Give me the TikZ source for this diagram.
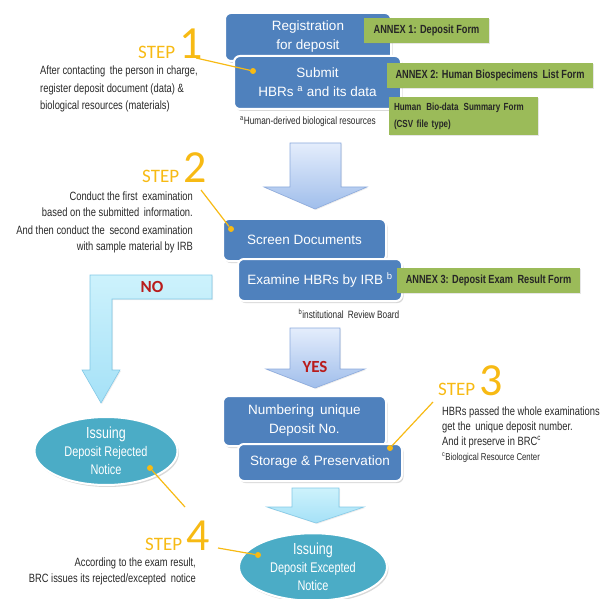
\documentclass[tikz,border=0pt]{standalone}
\usepackage{fontspec}
\setmainfont{Liberation Sans}
\newfontfamily\narrowfont{Liberation Sans}[FakeStretch=0.78]
\newfontfamily\stepfont{Carlito}
\usepackage{tikz}
\usepackage{xcolor}
\usetikzlibrary{positioning,shadows,shapes.geometric}
\definecolor{boxblue}{RGB}{79,129,189}
\definecolor{annexgreen}{RGB}{155,187,89}
\definecolor{stepgold}{RGB}{247,186,20}
\definecolor{noticeteal}{RGB}{75,172,198}
\definecolor{answerred}{RGB}{185,28,28}
\definecolor{textgrey}{RGB}{40,40,40}
\tikzstyle{proc} = [rectangle, rounded corners=6pt, draw=white, line width=2pt, fill=boxblue, text=white, align=center, inner sep=0pt, font=\fontsize{13.5}{19}\selectfont, drop shadow={opacity=0.3, shadow xshift=1.5pt, shadow yshift=-2pt}]
\tikzstyle{annex} = [rectangle, fill=annexgreen, text=black!85, inner sep=0pt, font=\narrowfont\bfseries\fontsize{11.8}{14}\selectfont, drop shadow={opacity=0.2, shadow xshift=1pt, shadow yshift=-1pt}]
\tikzstyle{notice} = [ellipse, draw=white, line width=2pt, fill=noticeteal, text=white, align=center, inner sep=0pt, font=\narrowfont\fontsize{14}{18}\selectfont, drop shadow={opacity=0.3, shadow xshift=1.5pt, shadow yshift=-2pt}]
\tikzstyle{stepword} = [inner sep=0pt, text=stepgold, font=\stepfont\fontsize{19}{22}\selectfont]
\tikzstyle{stepnum} = [inner sep=0pt, text=stepgold, font=\stepfont\fontsize{46}{50}\selectfont]
\tikzstyle{desc} = [inner sep=0pt, text=textgrey, font=\narrowfont\fontsize{12}{17}\selectfont]
\tikzstyle{footnote} = [inner sep=0pt, text=textgrey, font=\narrowfont\fontsize{10.6}{12}\selectfont]
\tikzstyle{dot} = [circle, fill=stepgold, inner sep=0pt, minimum size=6pt]
\tikzstyle{leader} = [draw=stepgold, line width=1.2pt]
\tikzstyle{answer} = [inner sep=0pt, text=answerred, font=\stepfont\bfseries\fontsize{17}{20}\selectfont]
\tikzstyle{bluearrow} = [draw={rgb,255:red,140;green,170;blue,220}, top color={rgb,255:red,228;green,237;blue,252}, bottom color={rgb,255:red,160;green,190;blue,235}, line width=0.6pt, drop shadow={opacity=0.15, shadow xshift=1pt, shadow yshift=-1pt}]
\tikzstyle{cyanarrow} = [draw={rgb,255:red,130;green,200;blue,230}, top color={rgb,255:red,205;green,242;blue,252}, bottom color={rgb,255:red,165;green,225;blue,247}, line width=0.6pt, drop shadow={opacity=0.15, shadow xshift=1pt, shadow yshift=-1pt}]

\begin{document}
\begin{tikzpicture}[x=1pt,y=-1pt]
  \useasboundingbox (0,0) rectangle (603,599);

  % arrows between the stages
  \path[bluearrow] (290,143) -- (341,143) -- (341,187) -- (367,187) -- (315,209) -- (264,187) -- (290,187) -- cycle;
  \path[bluearrow] (290,328) -- (340,328) -- (340,369) -- (365,369) -- (315,388) -- (266,369) -- (290,369) -- cycle;
  \path[cyanarrow] (90,275) -- (212,275) -- (212,299) -- (112,299) -- (112,370) -- (120,370) -- (101,403) -- (82,370) -- (90,370) -- cycle;
  \path[cyanarrow] (292,488) -- (339,488) -- (339,507) -- (364,507) -- (316,523) -- (267,507) -- (292,507) -- cycle;
  \node[answer] (no) at (152,287) {NO};
  \node[answer] (yes) at (315,367) {YES};

  % blue stage boxes
  \node[proc, minimum width=166pt, minimum height=48pt] (reg) at (308,37) {Registration\\for deposit};
  \node[proc, minimum width=167pt, minimum height=53pt] (submit) at (317.5,82.5) {Submit\\HBRs \textsuperscript{a} and its data};
  \node[footnote] (fa) at (308,122) {\textsuperscript{a}Human-derived biological resources};
  \node[proc, minimum width=163pt, minimum height=42pt] (screen) at (304.5,240) {Screen Documents};
  \node[proc, minimum width=164pt, minimum height=42pt] (exam) at (320,280) {Examine HBRs by IRB \textsuperscript{b}};
  \node[footnote] (fb) at (349,314) {\textsuperscript{b}institutional\, Review Board};
  \node[proc, minimum width=163pt, minimum height=50pt] (number) at (304.5,421) {Numbering\, unique\\Deposit No.};
  \node[proc, minimum width=164pt, minimum height=37pt] (store) at (320,462.5) {Storage \& Preservation};

  % annex forms
  \node[annex, minimum width=125pt, minimum height=25pt] (annex1) at (426.5,30.5) {ANNEX 1: Deposit Form};
  \node[annex, minimum width=206pt, minimum height=25pt] (annex2) at (490,75.5) {ANNEX 2: Human Biospecimens\, List Form};
  \node[annex, minimum width=149pt, minimum height=38pt, align=left, text width=139pt, font=\narrowfont\bfseries\fontsize{10.3}{17}\selectfont] (biodata) at (463.5,116) {Human\, Bio-data\, Summary Form\\(CSV file type)};
  \node[annex, minimum width=183pt, minimum height=25pt] (annex3) at (488.5,280.5) {ANNEX 3: Deposit Exam\, Result Form};

  % notices
  \node[notice, minimum width=143pt, minimum height=68pt] (reject) at (106,451) {{\fontsize{16}{19}\selectfont Issuing}\\Deposit Rejected\\Notice};
  \node[notice, minimum width=148pt, minimum height=62pt] (accept) at (313,567) {{\fontsize{16}{18}\selectfont Issuing}\\Deposit Excepted\\Notice};

  % step 1
  \node[stepword, anchor=base west] (s1) at (138,59) {STEP};
  \node[stepnum, anchor=base west] (n1) at ([xshift=4pt]s1.base east) {1};
  \node[desc, align=left, anchor=base west, font=\narrowfont\fontsize{12}{17.5}\selectfont] (t1) at (40,110) {After contacting\, the person in charge,\\register deposit document (data) \&\\biological resources (materials)};
  \node[dot] (d1) at (253,71) {};
  \coordinate (l1) at (196,58);
  \path[leader] (l1) -- (d1);

  % step 2
  \node[stepword, anchor=base west] (s2) at (142,183) {STEP};
  \node[stepnum, anchor=base west] (n2) at ([xshift=4pt]s2.base east) {2};
  \node[desc, align=right, anchor=base east] (t2) at (193,251) {Conduct the first\, examination\\based on the submitted\, information.\\And then conduct the\, second examination\\with sample material by IRB};
  \node[dot] (d2) at (231,229) {};
  \coordinate (l2) at (201,190);
  \path[leader] (l2) -- (d2);

  % step 3
  \node[stepword, anchor=base west] (s3) at (438,395) {STEP};
  \node[stepnum, anchor=base west] (n3) at ([xshift=4pt]s3.base east) {3};
  \node[desc, align=left, anchor=base west, font=\narrowfont\fontsize{12}{15}\selectfont] (t3) at (442,460) {HBRs passed the whole examinations\\get the\, unique deposit number.\\And it preserve in BRC\textsuperscript{c}\\{\fontsize{10}{15}\selectfont\textsuperscript{c}Biological Resource Center}};
  \node[dot] (d3) at (390,448) {};
  \coordinate (l3) at (433,402);
  \path[leader] (l3) -- (d3);

  % step 4
  \node[stepword, anchor=base west] (s4) at (145,550) {STEP};
  \node[stepnum, anchor=base west] (n4) at ([xshift=4pt]s4.base east) {4};
  \node[desc, align=right, anchor=base east, font=\narrowfont\fontsize{12}{16}\selectfont] (t4) at (196,582) {According to the exam result,\\BRC issues its rejected/excepted\, notice};
  \node[dot] (d4a) at (150,468) {};
  \node[dot] (d4b) at (258,555) {};
  \coordinate (l4a) at (185,507);
  \coordinate (l4b) at (218,548);
  \path[leader] (l4a) -- (d4a);
  \path[leader] (l4b) -- (d4b);
\end{tikzpicture}
\end{document}
